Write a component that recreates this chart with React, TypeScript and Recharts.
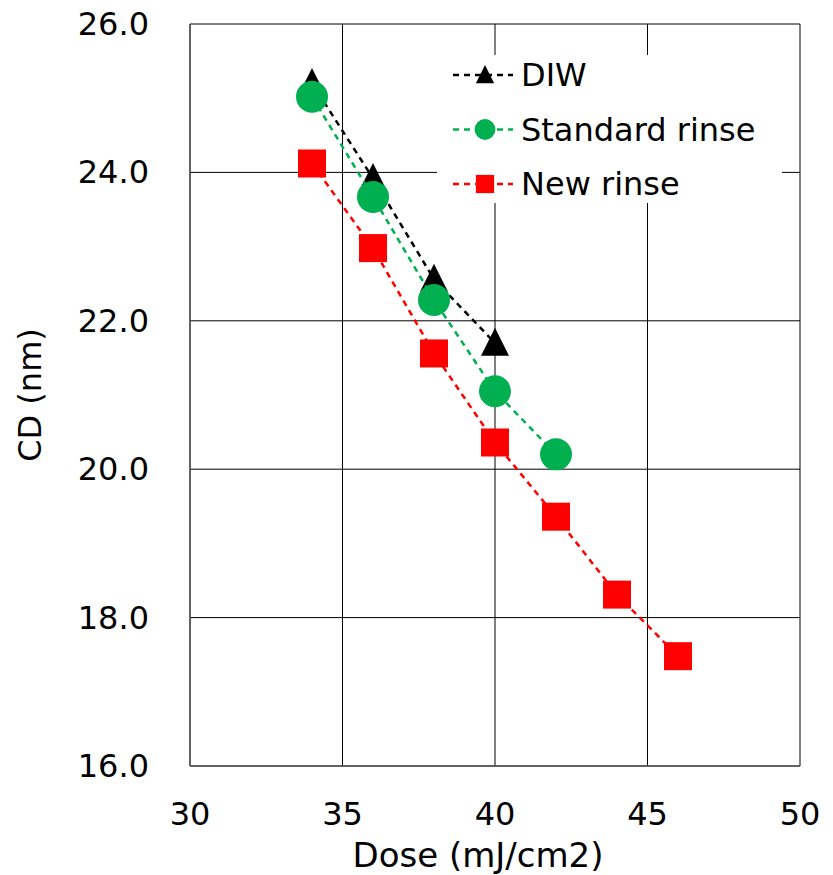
import React from "react";
import {
  ScatterChart,
  Scatter,
  XAxis,
  YAxis,
  CartesianGrid,
  Legend,
} from "recharts";

const doseDIW = [34, 36, 38, 40];
const cdDIW = [25.2, 23.92, 22.56, 21.7];
const doseStandard = [34, 36, 38, 40, 42];
const cdStandard = [25.02, 23.67, 22.28, 21.05, 20.2];
const doseNew = [34, 36, 38, 40, 42, 44, 46];
const cdNew = [24.12, 22.98, 21.56, 20.36, 19.36, 18.31, 17.48];
const xTicks = [30, 35, 40, 45, 50];
const yTicks = [16, 18, 20, 22, 24, 26];

const FONT = "'DejaVu Sans', Verdana, sans-serif";

const toPoints = (xs: number[], ys: number[]) =>
  xs.map((x, i) => ({ dose: x, cd: ys[i] }));

const series = [
  { name: "DIW", color: "#000000", data: toPoints(doseDIW, cdDIW), marker: "triangle" },
  { name: "Standard rinse", color: "#00b050", data: toPoints(doseStandard, cdStandard), marker: "circle" },
  { name: "New rinse", color: "#ff0000", data: toPoints(doseNew, cdNew), marker: "square" },
];

function Marker({ kind, cx, cy, color, scale = 1 }: any) {
  if (kind === "triangle") {
    const s = 14 * scale;
    return (
      <polygon
        points={`${cx},${cy - s * 1.1} ${cx - s},${cy + s * 0.9} ${cx + s},${cy + s * 0.9}`}
        fill={color}
      />
    );
  }
  if (kind === "circle") {
    return <circle cx={cx} cy={cy} r={16 * scale} fill={color} />;
  }
  const h = 14 * scale;
  return <rect x={cx - h} y={cy - h} width={h * 2} height={h * 2} fill={color} />;
}

const YTick = ({ x, y, payload }: any) => (
  <text x={x - 33} y={y} textAnchor="end" dominantBaseline="central" fontSize={32} fill="#000" fontFamily={FONT}>
    {Number(payload.value).toFixed(1)}
  </text>
);

const XTick = ({ x, y, payload }: any) => (
  <text x={x} y={y + 40} textAnchor="middle" dominantBaseline="central" fontSize={32} fill="#000" fontFamily={FONT}>
    {payload.value}
  </text>
);

const LegendBox = () => (
  <div style={{ background: "#fff", width: 345, height: 148 }}>
    <svg width={345} height={148}>
      {series.map((s, i) => {
        const cy = 20 + i * 54.5;
        return (
          <g key={s.name}>
            <line x1={16} x2={76} y1={cy} y2={cy} stroke={s.color} strokeWidth={2.5} strokeDasharray="6 5" />
            <Marker kind={s.marker} cx={48} cy={cy} color={s.color} scale={0.65} />
            <text x={84} y={cy} dominantBaseline="central" fontSize={32} fill="#000" fontFamily={FONT}>
              {s.name}
            </text>
          </g>
        );
      })}
    </svg>
  </div>
);

export default function App() {
  return (
    <div style={{ position: "absolute", left: 0, top: 0, background: "#fff" }}>
      <ScatterChart width={833} height={875} margin={{ top: 24, right: 33, left: 0, bottom: 0 }}>
        <CartesianGrid stroke="#000" strokeWidth={1} horizontalValues={yTicks} verticalValues={xTicks} />
        <XAxis
          type="number"
          dataKey="dose"
          domain={[30, 50]}
          ticks={xTicks}
          interval={0}
          height={109}
          tickLine={false}
          axisLine={{ stroke: "#595959", strokeWidth: 1.5 }}
          tick={<XTick />}
          label={{ value: "Dose (mJ/cm2)", position: "insideBottom", offset: 8, dx: -17, fontSize: 34, fill: "#000", fontFamily: FONT }}
        />
        <YAxis
          type="number"
          dataKey="cd"
          domain={[16, 26]}
          ticks={yTicks}
          interval={0}
          width={190}
          tickLine={false}
          axisLine={{ stroke: "#595959", strokeWidth: 1.5 }}
          tick={<YTick />}
          label={{ value: "CD (nm)", angle: -90, position: "insideLeft", offset: 30, fontSize: 32, fill: "#000", fontFamily: FONT, style: { textAnchor: "middle" } }}
        />
        <Legend
          layout="vertical"
          verticalAlign="middle"
          align="center"
          wrapperStyle={{ top: 55, left: 437, width: 345 }}
          content={<LegendBox />}
        />
        {series.map((s) => (
          <Scatter
            key={s.name}
            name={s.name}
            data={s.data}
            isAnimationActive={false}
            line={{ stroke: s.color, strokeWidth: 2.5, strokeDasharray: "6 5" }}
            lineType="joint"
            shape={(p: any) => <Marker kind={s.marker} cx={p.cx} cy={p.cy} color={s.color} />}
          />
        ))}
      </ScatterChart>
    </div>
  );
}
